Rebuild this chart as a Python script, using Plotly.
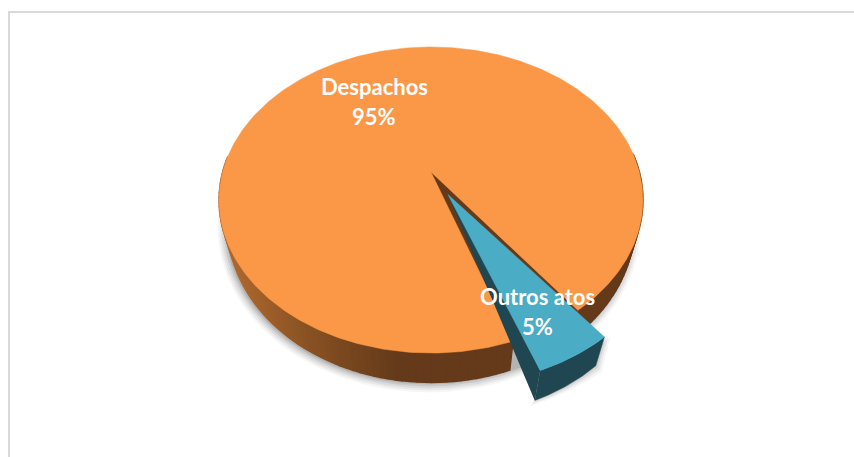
import numpy as np
import plotly.graph_objects as go

categories = ["Despachos", "Outros atos"]
values = [95, 5]
percent_labels = ["95%", "5%"]
top_colors = ["#FA9847", "#4BACC6"]
side_color_blue = "#1F4651"
wall_color = "#643A1A"

# projection of the pie plane (perspective view)
X0, Y0 = 431.0, 172.0
A, K, P = 208.4, 147.9, 0.183
DEPTH = 24.0
TAPER = 0.04
BLUE_TAPER = 0.05
START_DEG = 19.0          # front-relative angle where the small slice begins
EXPLODE = 0.168
EXPLODE_TURN = 1.2        # small slice sits slightly turned in the view
EXPLODE_R = 0.99
LABEL_R = [0.613, 0.75]
LABEL_NUDGE = [(-2, -2), (1, 1)]


def proj(u, v, bottom=False, taper=TAPER):
    u, v = np.asarray(u, float), np.asarray(v, float)
    s = 1.0 / (1.0 - P * v)
    x = A * u * s
    y = K * v * s
    if bottom:
        x = x * (1 - taper)
        y = y + DEPTH * s
    return X0 + x, Y0 + y


def rad(deg):
    return np.radians(deg)


total = sum(values)
sweep_small = 360.0 * values[1] / total
a0, a1 = START_DEG, START_DEG + sweep_small
mid = (a0 + a1) / 2
ox, oy = EXPLODE * np.sin(rad(mid)), EXPLODE * np.cos(rad(mid))

fig = go.Figure()


def poly(x, y, color, line=0.0, opacity=1.0):
    fig.add_trace(go.Scatter(
        x=list(x), y=list(y), mode="lines", fill="toself", fillcolor=color,
        line=dict(color=color, width=line), opacity=opacity,
        hoverinfo="skip", showlegend=False))


# soft shadow
th = np.linspace(0, 2 * np.pi, 240)
for g, al in [(8, 0.035), (6, 0.05), (4, 0.06), (2, 0.08), (0, 0.1)]:
    xb, yb = proj(np.sin(th), np.cos(th), bottom=True)
    cx, cy = xb.mean(), yb.mean()
    rx = (xb - cx); ry = (yb - cy)
    nrm = np.hypot(rx, ry)
    poly(cx + rx * (1 + g / nrm) - 2, cy + ry * (1 + g / nrm) + 2, "#000000", opacity=al)


def rim_color(x):
    stops_x = [215, 250, 300, 350, 400, 650]
    r = np.interp(x, stops_x, [180, 165, 140, 118, 100, 100])
    g = np.interp(x, stops_x, [108, 98, 84, 70, 58, 58])
    b = np.interp(x, stops_x, [50, 44, 36, 30, 26, 26])
    return f"rgb({int(r)},{int(g)},{int(b)})"


# orange rim
angles = np.linspace(a1, a0 + 360, 200)
for i in range(len(angles) - 1):
    t = rad(angles[i:i + 2])
    u, v = np.sin(t), np.cos(t)
    if v.max() < -0.1:
        continue
    xt, yt = proj(u, v)
    xbm, ybm = proj(u, v, bottom=True)
    poly(np.r_[xt, xbm[::-1]], np.r_[yt, ybm[::-1]], rim_color(xt.mean()), line=1.5)

# inside of the notch
xe, ye = proj([0, np.sin(rad(a1))], [0, np.cos(rad(a1))])
xeb, yeb = proj([0, np.sin(rad(a1))], [0, np.cos(rad(a1))], bottom=True)
poly(np.r_[xe, xeb[::-1]], np.r_[ye, yeb[::-1]], wall_color)
tn = rad(np.linspace(a0, a1, 20))
xn, yn = proj(np.r_[0, np.sin(tn)], np.r_[0, np.cos(tn)])
poly(np.r_[xn, xn[0]], np.r_[yn, yn[0]], wall_color, line=1.0)

# orange top
t = rad(np.linspace(a1, a0 + 360, 400))
xo, yo = proj(np.r_[0, np.sin(t)], np.r_[0, np.cos(t)])
poly(np.r_[xo, xo[0]], np.r_[yo, yo[0]], top_colors[0], line=0.5)

# exploded slice: shadow, sides, then top
t = rad(np.linspace(a0 + EXPLODE_TURN, a1 + EXPLODE_TURN, 30))
ux, vy = ox + EXPLODE_R * np.sin(t), oy + EXPLODE_R * np.cos(t)
xo1, yo1 = proj(ux, vy)
xb1, yb1 = proj(ux, vy, bottom=True, taper=BLUE_TAPER)
for g, al in [(6, 0.04), (4, 0.06), (2, 0.08)]:
    poly(np.r_[xb1 + np.linspace(-g, g, 30), xo1[-1] + g], np.r_[yb1 + g, yo1[-1]], "#000000", opacity=al)
poly(np.r_[xo1, xb1[::-1]], np.r_[yo1, yb1[::-1]], side_color_blue, line=0.5)
xa, ya = proj([ox], [oy])
poly([xa[0], xo1[0], xb1[0]], [ya[0], yo1[0], yb1[0]], side_color_blue, line=0.5)
poly(np.r_[xa, xo1, xa], np.r_[ya, yo1, ya], top_colors[1], line=0.5)

# labels
label_dirs = [mid + 180, mid]
label_off = [(0, 0), (ox, oy)]
for cat, pct, d, r, off, nudge in zip(categories, percent_labels, label_dirs, LABEL_R, label_off, LABEL_NUDGE):
    lx, ly = proj(off[0] + r * np.sin(rad(d)), off[1] + r * np.cos(rad(d)))
    for text, shift in ((cat, 15), (pct, -15)):
        fig.add_annotation(x=float(lx), y=float(ly), text=text, showarrow=False,
                           xshift=nudge[0], yshift=shift + nudge[1],
                           font=dict(family="Lato", size=22, color="white", weight="bold"),
                           xanchor="center", yanchor="middle")

fig.update_layout(
    width=854, height=457, margin=dict(l=0, r=0, t=0, b=0),
    paper_bgcolor="white", plot_bgcolor="white", showlegend=False,
    xaxis=dict(range=[0, 854], visible=False, fixedrange=True),
    yaxis=dict(range=[457, 0], visible=False, fixedrange=True),
    shapes=[
        dict(type="line", x0=9, x1=854, y0=12, y1=12, line=dict(color="#D9D9D9", width=2)),
        dict(type="line", x0=9, x1=9, y0=11, y1=457, line=dict(color="#D9D9D9", width=2)),
    ],
)
fig.write_html("out.html", config={"displayModeBar": False},
               post_script="document.body.style.margin='0';document.body.style.overflow='hidden';")
